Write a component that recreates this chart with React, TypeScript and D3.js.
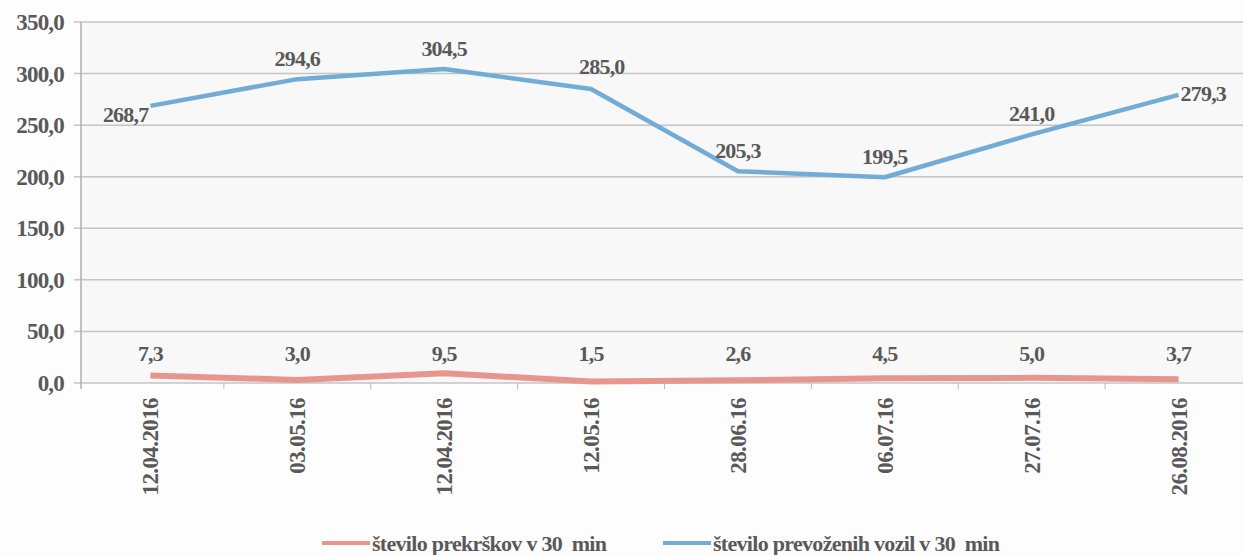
import { useRef, useEffect } from 'react';
import * as d3 from 'd3';

const categories = ['12.04.2016', '03.05.16', '12.04.2016', '12.05.16', '28.06.16', '06.07.16', '27.07.16', '26.08.2016'];
const prekrski = [7.3, 3.0, 9.5, 1.5, 2.6, 4.5, 5.0, 3.7];
const vozila = [268.7, 294.6, 304.5, 285.0, 205.3, 199.5, 241.0, 279.3];
const yTicks = [0, 50, 100, 150, 200, 250, 300, 350];
const seriesNames = ['število prekrškov v 30  min', 'število prevoženih vozil v 30  min'];
// where each blue label sits relative to its point
const blueLabelSide = ['left', 'above', 'above', 'aboveRight', 'above', 'above', 'above', 'right'];

const W = 1243;
const H = 555;
const FONT = '"Liberation Serif", "DejaVu Serif", serif';
const TEXT = '#595959';
const RED = '#e7968c';
const BLUE = '#72acd6';

export default function App() {
    const svgRef = useRef<SVGSVGElement | null>(null);

    useEffect(() => {
        if (!svgRef.current) return;
        const svg = d3.select(svgRef.current);
        svg.selectAll('*').remove();

        const margin = { top: 22, left: 80, bottom: 172 };
        const x = d3.scaleBand<number>()
            .domain(d3.range(categories.length))
            .range([margin.left - 3, 1252]);
        const y = d3.scaleLinear().domain([0, 350]).range([H - margin.bottom, margin.top]);
        const cx = (i: number) => (x(i) as number) + x.bandwidth() / 2;

        const fmt = d3.formatLocale({ decimal: ',', thousands: '.', grouping: [3], currency: ['', ''] }).format('.1f');

        svg.append('rect').attr('width', W).attr('height', H).attr('fill', '#fdfdfd');
        svg.append('rect').attr('x', margin.left).attr('y', y(350)).attr('width', W - margin.left).attr('height', y(0) - y(350)).attr('fill', '#f8f8f8');

        // gridlines
        svg.append('g').selectAll('line').data(yTicks).enter().append('line')
            .attr('x1', margin.left - 6).attr('x2', W)
            .attr('y1', d => y(d)).attr('y2', d => y(d))
            .attr('stroke', '#c4c4c4').attr('stroke-width', 1.5);

        // y axis line
        svg.append('line').attr('x1', margin.left + 1).attr('x2', margin.left + 1)
            .attr('y1', y(350)).attr('y2', y(0) + 6).attr('stroke', '#b0b0b0').attr('stroke-width', 1.5);

        const textStyle = (s: any, size: number, spacing = -0.8) =>
            s.attr('font-family', FONT).attr('font-weight', 'bold').attr('font-size', size)
                .attr('fill', TEXT).attr('letter-spacing', spacing);

        // y tick labels
        svg.append('g').selectAll('text').data(yTicks).enter().append('text')
            .attr('x', 64).attr('y', d => y(d)).attr('dy', '0.35em')
            .attr('text-anchor', 'end')
            .call(textStyle, 23)
            .text(d => fmt(d));

        // x tick marks
        svg.append('g').selectAll('line').data(d3.range(1, categories.length)).enter().append('line')
            .attr('x1', d => x(d) as number).attr('x2', d => x(d) as number)
            .attr('y1', y(0)).attr('y2', y(0) + 6).attr('stroke', '#b8b8b8');

        // x labels
        svg.append('g').selectAll('text').data(categories).enter().append('text')
            .attr('transform', (_, i) => `translate(${cx(i) + 8},${y(0) + 15}) rotate(-90)`)
            .attr('text-anchor', 'end')
            .call(textStyle, 23, -0.6)
            .text(d => d);

        const line = d3.line<number>().x((_, i) => cx(i)).y(d => y(d));

        svg.append('path').datum(vozila).attr('fill', 'none').attr('stroke', BLUE)
            .attr('stroke-width', 4.5).attr('stroke-linejoin', 'round').attr('d', line);
        svg.append('path').datum(prekrski).attr('fill', 'none').attr('stroke', RED)
            .attr('stroke-width', 6).attr('stroke-linejoin', 'round').attr('d', line);

        svg.append('g').selectAll('text').data(vozila).enter().append('text')
            .attr('x', (_, i) => {
                const side = blueLabelSide[i];
                if (side === 'left') return cx(i) - 2;
                if (side === 'right') return cx(i) + 2;
                if (side === 'aboveRight') return cx(i) - 12;
                return cx(i);
            })
            .attr('y', (d, i) => {
                const side = blueLabelSide[i];
                if (side === 'left') return y(d) + 16;
                if (side === 'right') return y(d) + 6;
                if (side === 'aboveRight') return y(d) - 15;
                return y(d) - 13;
            })
            .attr('text-anchor', (_, i) => blueLabelSide[i] === 'left' ? 'end' : blueLabelSide[i] === 'above' ? 'middle' : 'start')
            .call(textStyle, 22)
            .text(d => fmt(d));

        svg.append('g').selectAll('text').data(prekrski).enter().append('text')
            .attr('x', (_, i) => cx(i)).attr('y', y(0) - 22)
            .attr('text-anchor', 'middle')
            .call(textStyle, 22)
            .text(d => fmt(d));

        // legend
        const legend = svg.append('g').attr('transform', `translate(0,${H - 12})`);
        const legendX = [322, 663];
        [RED, BLUE].forEach((c, i) => {
            legend.append('line').attr('x1', legendX[i]).attr('x2', legendX[i] + 48)
                .attr('y1', 0).attr('y2', 0).attr('stroke', c).attr('stroke-width', 4);
            legend.append('text').attr('x', legendX[i] + 50).attr('y', 0).attr('dy', '0.35em')
                .call(textStyle, 22, -0.7).style('white-space', 'pre')
                .text(seriesNames[i]);
        });
    }, []);

    return (
        <svg ref={svgRef} width={W} height={H} style={{ position: 'absolute', left: 0, top: 0 }} />
    );
}
